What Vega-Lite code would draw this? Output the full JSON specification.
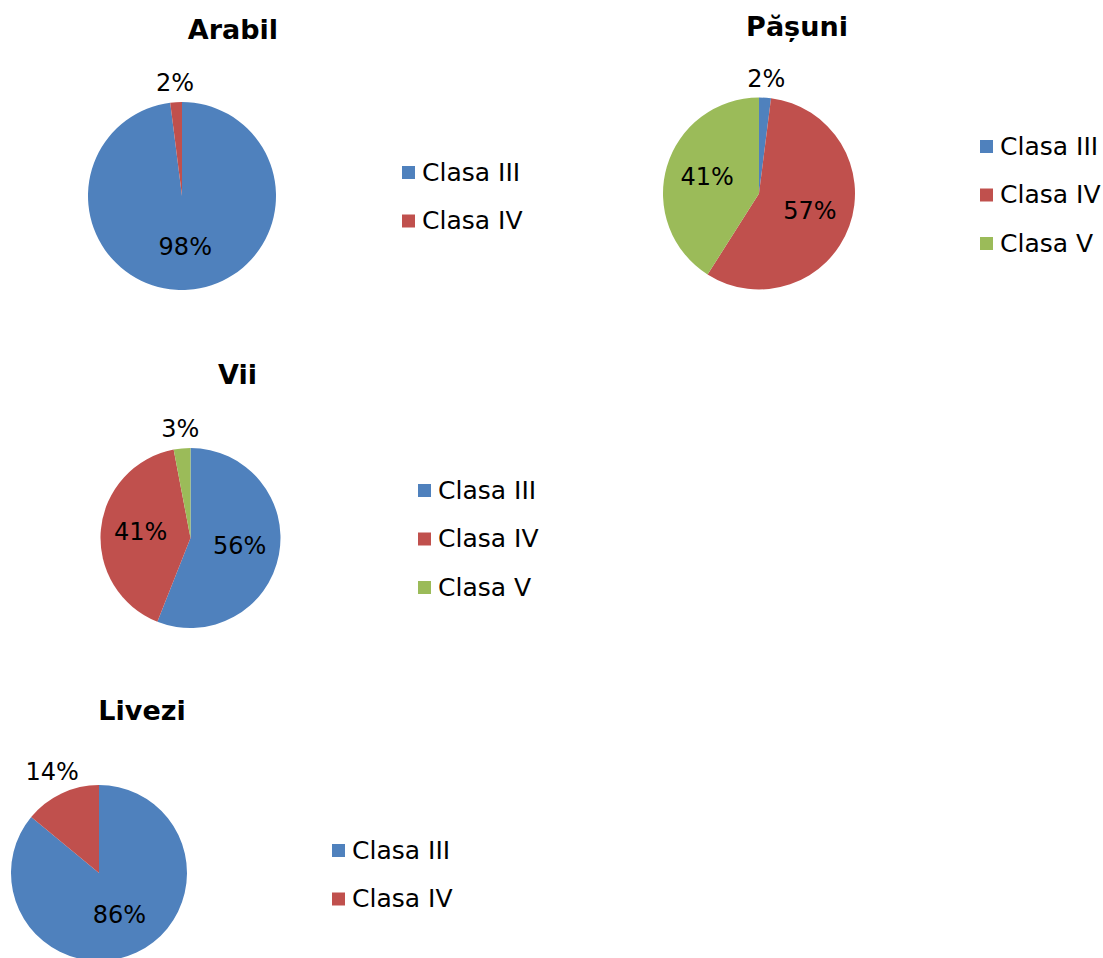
{
  "$schema": "https://vega.github.io/schema/vega-lite/v6.json",
  "padding": 0,
  "background": "white",
  "datasets": {
    "arabil": [{"clasa": "Clasa III", "p": 0.98}, {"clasa": "Clasa IV", "p": 0.02}],
    "pasuni": [{"clasa": "Clasa III", "p": 0.02}, {"clasa": "Clasa IV", "p": 0.57}, {"clasa": "Clasa V", "p": 0.41}],
    "vii": [{"clasa": "Clasa III", "p": 0.56}, {"clasa": "Clasa IV", "p": 0.41}, {"clasa": "Clasa V", "p": 0.03}],
    "livezi": [{"clasa": "Clasa III", "p": 0.86}, {"clasa": "Clasa IV", "p": 0.14}],
    "blank": []
  },
  "columns": 2,
  "bounds": "flush",
  "align": "each",
  "spacing": {"row": 0, "column": 40},
  "resolve": {"scale": {"color": "independent", "theta": "independent"}, "legend": {"color": "independent"}},
  "concat": [
    {
      "width": 364, "height": 392,
      "data": {"name": "arabil"},
      "title": {"text": "Arabil", "anchor": "middle", "frame": "group", "dx": 51, "offset": -45},
      "encoding": {"theta": {"field": "p", "type": "quantitative", "stack": true}, "order": {"field": "clasa", "type": "ordinal", "sort": "ascending"}},
      "layer": [
        {"mark": {"type": "arc", "outerRadius": 94},
         "encoding": {"color": {"field": "clasa", "type": "nominal",
           "scale": {"domain": ["Clasa III", "Clasa IV"], "range": ["#4F81BD", "#C0504D"]},
           "legend": {"orient": "none", "legendX": 396, "legendY": 160}}}},
        {"mark": {"type": "text", "radius": 52},
         "encoding": {"text": {"condition": {"test": "datum.p >= 0.2", "field": "p", "format": ".0%"}, "value": ""}}},
        {"mark": {"type": "text", "radius": 112},
         "encoding": {"text": {"condition": {"test": "datum.p < 0.2", "field": "p", "format": ".0%"}, "value": ""}}}
      ]
    },
    {
      "width": 676, "height": 387,
      "data": {"name": "pasuni"},
      "title": {"text": "Pășuni", "anchor": "middle", "frame": "group", "dx": 38, "offset": -42},
      "encoding": {"theta": {"field": "p", "type": "quantitative", "stack": true}, "order": {"field": "clasa", "type": "ordinal", "sort": "ascending"}},
      "layer": [
        {"mark": {"type": "arc", "outerRadius": 96},
         "encoding": {"color": {"field": "clasa", "type": "nominal",
           "scale": {"domain": ["Clasa III", "Clasa IV", "Clasa V"], "range": ["#4F81BD", "#C0504D", "#9BBB59"]},
           "legend": {"orient": "none", "legendX": 553, "legendY": 134}}}},
        {"mark": {"type": "text", "radius": 54},
         "encoding": {"text": {"condition": {"test": "datum.p >= 0.2", "field": "p", "format": ".0%"}, "value": ""}}},
        {"mark": {"type": "text", "radius": 114},
         "encoding": {"text": {"condition": {"test": "datum.p < 0.2", "field": "p", "format": ".0%"}, "value": ""}}}
      ]
    },
    {
      "width": 381, "height": 292,
      "data": {"name": "vii"},
      "title": {"text": "Vii", "anchor": "middle", "frame": "group", "dx": 47, "offset": 2},
      "encoding": {"theta": {"field": "p", "type": "quantitative", "stack": true}, "order": {"field": "clasa", "type": "ordinal", "sort": "ascending"}},
      "layer": [
        {"mark": {"type": "arc", "outerRadius": 90},
         "encoding": {"color": {"field": "clasa", "type": "nominal",
           "scale": {"domain": ["Clasa III", "Clasa IV", "Clasa V"], "range": ["#4F81BD", "#C0504D", "#9BBB59"]},
           "legend": {"orient": "none", "legendX": 412, "legendY": 86}}}},
        {"mark": {"type": "text", "radius": 50},
         "encoding": {"text": {"condition": {"test": "datum.p >= 0.2", "field": "p", "format": ".0%"}, "value": ""}}},
        {"mark": {"type": "text", "radius": 108},
         "encoding": {"text": {"condition": {"test": "datum.p < 0.2", "field": "p", "format": ".0%"}, "value": ""}}}
      ]
    },
    {
      "width": 10, "height": 398,
      "data": {"name": "blank"},
      "mark": "point",
      "encoding": {}
    },
    {
      "width": 198, "height": 166,
      "data": {"name": "livezi"},
      "title": {"text": "Livezi", "anchor": "middle", "frame": "group", "dx": 43, "offset": 35},
      "encoding": {"theta": {"field": "p", "type": "quantitative", "stack": true}, "order": {"field": "clasa", "type": "ordinal", "sort": "ascending"}},
      "layer": [
        {"mark": {"type": "arc", "outerRadius": 88},
         "encoding": {"color": {"field": "clasa", "type": "nominal",
           "scale": {"domain": ["Clasa III", "Clasa IV"], "range": ["#4F81BD", "#C0504D"]},
           "legend": {"orient": "none", "legendX": 326, "legendY": 48}}}},
        {"mark": {"type": "text", "radius": 48},
         "encoding": {"text": {"condition": {"test": "datum.p >= 0.2", "field": "p", "format": ".0%"}, "value": ""}}},
        {"mark": {"type": "text", "radius": 110},
         "encoding": {"text": {"condition": {"test": "datum.p < 0.2", "field": "p", "format": ".0%"}, "value": ""}}}
      ]
    }
  ],
  "config": {
    "view": {"stroke": null},
    "font": "DejaVu Sans",
    "text": {"font": "DejaVu Sans", "fontSize": 24, "color": "#000000"},
    "title": {"font": "DejaVu Sans", "fontSize": 27, "fontWeight": "bold", "color": "#000000"},
    "legend": {"title": null, "labelFont": "DejaVu Sans", "labelFontSize": 25, "labelColor": "#000000",
      "symbolType": "square", "symbolSize": 169, "symbolStrokeWidth": 0, "rowPadding": 22.5, "labelOffset": 1, "padding": 0, "labelLimit": 300}
  }
}
